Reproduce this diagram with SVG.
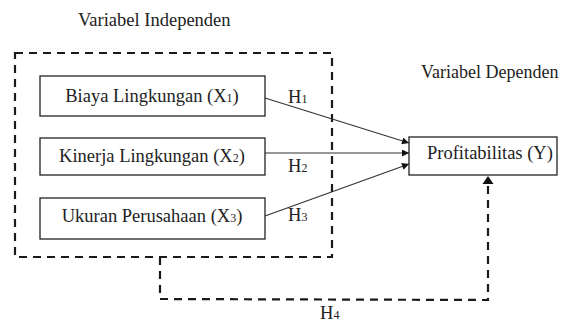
<svg xmlns="http://www.w3.org/2000/svg" width="561" height="323" viewBox="0 0 561 323">
<defs>
<style>
text{font-family:"Liberation Serif","Times New Roman",serif;font-size:18.5px;fill:#222}
.sub{font-size:12px}
.box{fill:#fff;stroke:#222;stroke-width:1.3}
.dash{fill:none;stroke:#1a1a1a;stroke-width:2.2;stroke-dasharray:8 6}
.arr{stroke:#333;stroke-width:1.2;fill:none;marker-end:url(#ah)}
</style>
<marker id="ah" viewBox="0 0 10 10" refX="10" refY="5" markerWidth="8" markerHeight="7" markerUnits="userSpaceOnUse" orient="auto">
<path d="M0,0 L10,5 L0,10 z" fill="#111"/>
</marker>
</defs>
<rect width="561" height="323" fill="#fff"/>
<text x="78" y="26">Variabel Independen</text>
<text x="421" y="78" style="font-size:18px">Variabel Dependen</text>
<rect id="group-independen" class="dash" x="15" y="53" width="317" height="204"/>
<g id="connectors">
<line class="arr" x1="265" y1="98" x2="409" y2="143"/>
<line class="arr" x1="265" y1="153" x2="409" y2="153"/>
<line class="arr" x1="265" y1="216" x2="409" y2="164"/>
<path d="M160,257 L160,299 L488,300 L488,184" fill="none" stroke="#1a1a1a" stroke-width="2.2" stroke-dasharray="8 6"/>
<path d="M482.5,184 L493.5,184 L488,176 z" fill="#111"/>
<text x="288" y="103">H<tspan class="sub">1</tspan></text>
<text x="288" y="172">H<tspan class="sub">2</tspan></text>
<text x="288" y="221">H<tspan class="sub">3</tspan></text>
<text x="320" y="319">H<tspan class="sub">4</tspan></text>
</g>
<g id="x1">
<rect class="box" x="40" y="76" width="225" height="40"/>
<text x="152" y="102" text-anchor="middle">Biaya Lingkungan (X<tspan class="sub">1</tspan>)</text>
</g>
<g id="x2">
<rect class="box" x="40" y="138" width="225" height="37"/>
<text x="152" y="162" text-anchor="middle">Kinerja Lingkungan (X<tspan class="sub">2</tspan>)</text>
</g>
<g id="x3">
<rect class="box" x="40" y="198" width="225" height="41"/>
<text x="152" y="222" text-anchor="middle">Ukuran Perusahaan (X<tspan class="sub">3</tspan>)</text>
</g>
<g id="y">
<rect class="box" x="409" y="137" width="148" height="38"/>
<text x="427" y="159">Profitabilitas (Y)</text>
</g>
</svg>
